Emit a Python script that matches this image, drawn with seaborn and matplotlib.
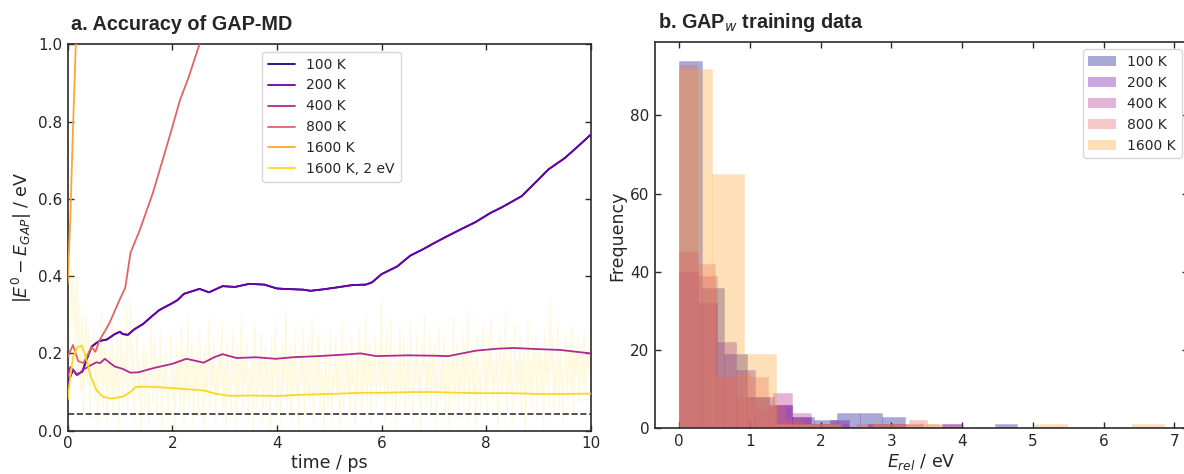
import numpy as np
import pandas as pd
import matplotlib
matplotlib.use("Agg")
import matplotlib.pyplot as plt
import seaborn as sns
from matplotlib.patches import Patch
from matplotlib.lines import Line2D
from matplotlib.colors import to_rgba

# ------------------------- panel a data -------------------------
line_labels = ["100 K", "200 K", "400 K", "800 K", "1600 K", "1600 K, 2 eV"]

t_200 = [0, 0.1, 0.17, 0.28, 0.39, 0.46, 0.6, 0.75, 0.9, 1.0, 1.05, 1.15, 1.27, 1.44,
         1.6, 1.75, 1.86, 2.0, 2.1, 2.22, 2.52, 2.7, 2.96, 3.2, 3.47, 3.76, 4.0, 4.13,
         4.5, 4.64, 4.9, 5.16, 5.45, 5.7, 5.82, 6.0, 6.3, 6.55, 6.8, 7.0, 7.21, 7.5,
         7.8, 8.09, 8.3, 8.68, 9.0, 9.19, 9.5, 9.75, 10.0]
e_200 = [0.122, 0.158, 0.145, 0.153, 0.195, 0.218, 0.232, 0.236, 0.250, 0.256, 0.250,
         0.248, 0.262, 0.276, 0.295, 0.312, 0.320, 0.330, 0.338, 0.354, 0.367, 0.358,
         0.374, 0.372, 0.380, 0.378, 0.368, 0.367, 0.365, 0.362, 0.366, 0.371, 0.377,
         0.378, 0.384, 0.405, 0.425, 0.453, 0.470, 0.485, 0.500, 0.520, 0.540, 0.564,
         0.578, 0.607, 0.650, 0.676, 0.705, 0.735, 0.766]
# the 100 K trace lies underneath the 200 K trace
t_100 = list(t_200)
e_100 = list(e_200)

t_400 = [0, 0.05, 0.1, 0.19, 0.3, 0.45, 0.55, 0.62, 0.71, 0.8, 0.9, 1.05, 1.2, 1.35,
         1.64, 1.9, 2.0, 2.27, 2.6, 2.8, 2.96, 3.23, 3.6, 3.98, 4.3, 4.8, 5.3, 5.6,
         5.9, 6.5, 7.0, 7.28, 7.8, 8.2, 8.53, 9.0, 9.41, 10.0]
e_400 = [0.140, 0.165, 0.157, 0.144, 0.158, 0.170, 0.177, 0.175, 0.186, 0.176, 0.166,
         0.160, 0.150, 0.151, 0.162, 0.170, 0.173, 0.186, 0.176, 0.190, 0.198, 0.188,
         0.190, 0.186, 0.190, 0.193, 0.197, 0.200, 0.193, 0.195, 0.194, 0.193, 0.207,
         0.212, 0.214, 0.211, 0.209, 0.200]

t_800 = [0, 0.1, 0.2, 0.3, 0.46, 0.53, 0.61, 0.7, 0.8, 0.99, 1.1, 1.2, 1.38, 1.63,
         1.93, 2.15, 2.3, 2.52, 2.7]
e_800 = [0.190, 0.222, 0.180, 0.175, 0.217, 0.204, 0.235, 0.255, 0.279, 0.338, 0.370,
         0.460, 0.520, 0.616, 0.753, 0.857, 0.910, 1.000, 1.070]

t_1600 = [0, 0.05, 0.1, 0.15, 0.2]
e_1600 = [0.38, 0.55, 0.78, 0.98, 1.20]

t_2ev = [0, 0.05, 0.1, 0.18, 0.27, 0.35, 0.44, 0.55, 0.67, 0.83, 1.05, 1.2, 1.3, 1.5,
         1.8, 2.0, 2.33, 2.6, 2.85, 3.1, 3.5, 4.0, 4.5, 5.0, 5.6, 6.0, 6.6, 7.0, 7.5,
         8.0, 8.5, 9.0, 9.5, 10.0]
e_2ev = [0.080, 0.140, 0.190, 0.215, 0.220, 0.190, 0.140, 0.105, 0.088, 0.083, 0.088,
         0.100, 0.113, 0.114, 0.112, 0.110, 0.107, 0.104, 0.095, 0.090, 0.091, 0.090,
         0.093, 0.095, 0.098, 0.098, 0.100, 0.100, 0.098, 0.097, 0.097, 0.095, 0.095,
         0.096]

# raw (instantaneous) error of the 1600 K, 2 eV run, sampled every 0.025 ps
raw_dt = 0.025
raw_2ev = [
    0.06, 0.18, 0.31, 0.42, 0.28, 0.36, 0.22, 0.40, 0.15, 0.33, 0.10, 0.29, 0.05, 0.24, 0.30, 0.12, 0.26, 0.03, 0.21, 0.16,
    0.27, 0.08, 0.19, 0.00, 0.23, 0.13, 0.30, 0.06, 0.17, 0.25, 0.02, 0.14, 0.22, 0.09, 0.28, 0.04, 0.18, 0.11, 0.24, 0.01,
    0.15, 0.26, 0.07, 0.20, 0.12, 0.32, 0.05, 0.18, 0.34, 0.09, 0.22, 0.03, 0.16, 0.27, 0.08, 0.19, 0.00, 0.13, 0.23, 0.06,
    0.21, 0.11, 0.02, 0.17, 0.28, 0.07, 0.14, 0.24, 0.04, 0.19, 0.10, 0.26, 0.00, 0.15, 0.09, 0.22, 0.12, 0.03, 0.18, 0.25,
    0.08, 0.16, 0.00, 0.23, 0.11, 0.19, 0.05, 0.27, 0.13, 0.02, 0.20, 0.09, 0.30, 0.06, 0.15, 0.24, 0.01, 0.17, 0.10, 0.21,
    0.04, 0.26, 0.12, 0.18, 0.00, 0.22, 0.08, 0.14, 0.29, 0.05, 0.19, 0.11, 0.24, 0.02, 0.16, 0.09, 0.21, 0.13, 0.28, 0.06,
    0.17, 0.00, 0.23, 0.10, 0.15, 0.04, 0.26, 0.12, 0.19, 0.01, 0.22, 0.08, 0.14, 0.30, 0.05, 0.18, 0.11, 0.24, 0.03, 0.16,
    0.09, 0.21, 0.00, 0.27, 0.13, 0.06, 0.19, 0.11, 0.25, 0.02, 0.15, 0.22, 0.07, 0.18, 0.12, 0.00, 0.24, 0.09, 0.16, 0.28,
    0.05, 0.20, 0.13, 0.01, 0.23, 0.10, 0.17, 0.31, 0.06, 0.14, 0.22, 0.03, 0.19, 0.11, 0.26, 0.08, 0.15, 0.00, 0.21, 0.12,
    0.27, 0.04, 0.18, 0.10, 0.23, 0.07, 0.16, 0.29, 0.02, 0.13, 0.20, 0.09, 0.25, 0.05, 0.17, 0.12, 0.00, 0.22, 0.14, 0.06,
    0.19, 0.26, 0.03, 0.15, 0.11, 0.24, 0.08, 0.20, 0.00, 0.17, 0.28, 0.06, 0.13, 0.22, 0.10, 0.18, 0.04, 0.25, 0.12, 0.16,
    0.01, 0.21, 0.09, 0.27, 0.14, 0.05, 0.19, 0.11, 0.30, 0.07, 0.16, 0.23, 0.02, 0.18, 0.12, 0.25, 0.06, 0.15, 0.21, 0.09,
    0.34, 0.12, 0.20, 0.03, 0.26, 0.10, 0.17, 0.29, 0.06, 0.14, 0.22, 0.00, 0.19, 0.11, 0.27, 0.08, 0.16, 0.24, 0.04, 0.13,
    0.21, 0.07, 0.28, 0.15, 0.02, 0.19, 0.12, 0.25, 0.09, 0.17, 0.00, 0.23, 0.14, 0.30, 0.06, 0.18, 0.10, 0.26, 0.04, 0.20,
    0.13, 0.22, 0.01, 0.16, 0.27, 0.08, 0.19, 0.11, 0.24, 0.05, 0.15, 0.21, 0.00, 0.18, 0.12, 0.29, 0.07, 0.14, 0.23, 0.03,
    0.17, 0.10, 0.26, 0.06, 0.20, 0.13, 0.31, 0.02, 0.16, 0.22, 0.09, 0.18, 0.00, 0.25, 0.12, 0.15, 0.05, 0.21, 0.28, 0.08,
    0.19, 0.04, 0.24, 0.14, 0.29, 0.07, 0.17, 0.11, 0.22, 0.00, 0.16, 0.26, 0.09, 0.20, 0.13, 0.31, 0.05, 0.18, 0.10, 0.23,
    0.02, 0.15, 0.27, 0.08, 0.19, 0.12, 0.24, 0.04, 0.17, 0.21, 0.00, 0.14, 0.28, 0.10, 0.18, 0.06, 0.23, 0.13, 0.25, 0.03,
    0.16, 0.22, 0.09, 0.19, 0.00, 0.26, 0.12, 0.20, 0.07, 0.34, 0.15, 0.24, 0.04, 0.18, 0.11, 0.28, 0.06, 0.21, 0.13, 0.02,
    0.19, 0.25, 0.08, 0.17, 0.23, 0.10, 0.27, 0.05, 0.20, 0.14, 0.24, 0.07, 0.18, 0.22, 0.11, 0.26, 0.09, 0.21, 0.16, 0.23,
    0.12]

chem_accuracy = 0.0434  # eV, dashed reference line

# ------------------------- panel b data -------------------------
hist_labels = ["100 K", "200 K", "400 K", "800 K", "1600 K"]
hist_emax = [4.78, 4.00, 3.98, 3.75, 6.86]   # upper end of each 15-bin range
counts_100 = [94, 36, 19, 8, 6, 3, 2, 4, 4, 3, 0, 0, 0, 0, 1]
counts_200 = [40, 32, 22, 15, 8, 6, 3, 1, 2, 0, 1, 1, 0, 0, 1]
counts_400 = [45, 39, 13, 8, 5, 9, 4, 1, 1, 0, 1, 1, 1, 0, 1]
counts_800 = [93, 42, 13, 14, 13, 6, 2, 1, 1, 0, 1, 1, 1, 2, 1]
counts_1600 = [92, 65, 19, 1, 1, 0, 1, 1, 0, 0, 0, 1, 0, 0, 1]
hist_counts = [counts_100, counts_200, counts_400, counts_800, counts_1600]

# ------------------------- styling -------------------------
sns.set_theme(style="ticks")
plt.rcParams["font.family"] = ["DejaVu Sans"]
plt.rcParams["mathtext.fontset"] = "dejavusans"

cmap = plt.cm.plasma
line_colors = [cmap(v) for v in (0.0, 0.2, 0.4, 0.6, 0.8, 0.92)]
hist_colors = line_colors[:5]
spine_col = "#2b2b2b"

fig = plt.figure(figsize=(11.84, 4.74), dpi=100)
axL = fig.add_axes([0.0572, 0.0914, 0.4417, 0.8152])
axR = fig.add_axes([0.5532, 0.0964, 0.4506, 0.8143])

# ---- panel a ----
t_raw = np.arange(len(raw_2ev)) * raw_dt
sns.lineplot(x=t_raw, y=raw_2ev, ax=axL, color=line_colors[5], alpha=0.15,
             linewidth=1.0, legend=False, zorder=1)
series = [(t_100, e_100), (t_200, e_200), (t_400, e_400), (t_800, e_800),
          (t_1600, e_1600), (t_2ev, e_2ev)]
for (tt, ee), col in zip(series, line_colors):
    sns.lineplot(x=tt, y=ee, ax=axL, color=col, linewidth=1.3, legend=False, zorder=3)
axL.axhline(chem_accuracy, color="#333333", linestyle="--", linewidth=1.2, zorder=2)

axL.set_xlim(0, 10)
axL.set_ylim(0, 1.0)
axL.set_xticks([0, 2, 4, 6, 8, 10])
axL.set_yticks([0.0, 0.2, 0.4, 0.6, 0.8, 1.0])
axL.set_yticklabels(["0.0", "0.2", "0.4", "0.6", "0.8", "1.0"])
axL.set_xlabel("time / ps", fontsize=12.5, labelpad=2)
axL.set_ylabel(r"$|E^0 - E_{GAP}|$ / eV", fontsize=12.5, labelpad=3)
axL.set_title("a. Accuracy of GAP-MD", loc="left", fontsize=14.3, fontweight="bold",
              family="Liberation Sans", pad=10, x=0.006)
handlesL = [Line2D([0], [0], color=c, linewidth=1.3) for c in line_colors]
axL.legend(handlesL, line_labels, loc="upper left", bbox_to_anchor=(0.3715, 0.98),
           borderaxespad=0, fontsize=10, frameon=True, handlelength=2.0)

# ---- panel b ----
for counts, emax, col in zip(hist_counts, hist_emax, hist_colors):
    edges = np.linspace(0, emax, len(counts) + 1).tolist()
    centers = [0.5 * (a + b) for a, b in zip(edges[:-1], edges[1:])]
    df = pd.DataFrame({"E": centers, "n": counts})
    sns.histplot(data=df, x="E", weights="n", bins=edges, ax=axR, color=col,
                 alpha=0.35, edgecolor=to_rgba(col, 0.15), linewidth=0.5)
axR.set_xlim(-0.343, 7.2)
axR.set_ylim(0, 98.7)
axR.set_xticks(range(0, 8))
axR.set_yticks([0, 20, 40, 60, 80])
axR.set_xlabel(r"$E_{rel}$ / eV", fontsize=12.5, labelpad=2)
axR.set_ylabel("Frequency", fontsize=12.5, labelpad=3)
axR.set_title(r"b. GAP$_w$ training data", loc="left", fontsize=14.3, fontweight="bold",
              family="Liberation Sans", pad=10, x=0.005)
handlesR = [Patch(facecolor=c, alpha=0.35, edgecolor="none") for c in hist_colors]
axR.legend(handlesR, hist_labels, loc="upper right", fontsize=10, frameon=True)

for ax in (axL, axR):
    for s in ax.spines.values():
        s.set_color(spine_col)
        s.set_linewidth(1.2)
        s.set_visible(True)
    ax.tick_params(direction="in", top=True, right=True, length=4, width=1.0,
                   color=spine_col, labelsize=11, pad=4)

fig.savefig("out.png", dpi=100)
